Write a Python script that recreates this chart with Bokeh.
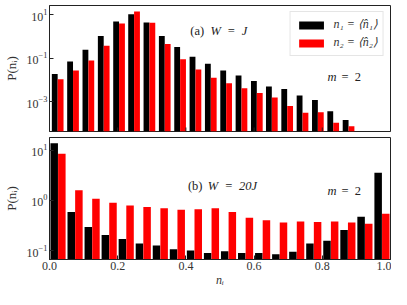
import math
from bokeh.plotting import figure
from bokeh.layouts import column
from bokeh.models import (Range1d, FixedTicker, Label, Legend, LegendItem,
                          ColumnDataSource, NumeralTickFormatter)
from bokeh.transform import dodge
from bokeh.embed import file_html
from bokeh.resources import INLINE

# ---------------- data ----------------
# panel (a): W = J
centers_a = [0.024, 0.069, 0.114, 0.159, 0.204, 0.248, 0.293, 0.338, 0.383, 0.428,
             0.473, 0.518, 0.563, 0.608, 0.652, 0.697, 0.742, 0.787, 0.832, 0.877]
n1_a = [0.0185, 0.0695, 0.243, 1.04, 4.82, 10.3, 4.35, 1.04, 0.321, 0.117,
        0.0547, 0.0272, 0.0161, 0.0089, 0.00497, 0.00387, 0.00195, 0.00119, 0.000368, 0.000144]
n2_a = [0.0106, 0.0272, 0.077, 0.368, 3.92, 13.7, 4.17, 0.44, 0.0883, 0.0302,
        0.0127, 0.0070, 0.00417, 0.00248, 0.00158, 0.000638, 0.000311, 0.000331, 0.000109, 0.0000739]

# panel (b): W = 20J
centers_b = [0.025, 0.075, 0.125, 0.175, 0.225, 0.275, 0.325, 0.375, 0.425, 0.475,
             0.525, 0.575, 0.625, 0.675, 0.725, 0.775, 0.825, 0.875, 0.925, 0.975]
n1_b = [13.8, 0.586, 0.294, 0.204, 0.169, 0.138, 0.126, 0.106, 0.100, 0.0889,
        0.097, 0.0889, 0.0889, 0.084, 0.094, 0.138, 0.157, 0.255, 0.47, 3.54]
n2_b = [8.5, 1.585, 1.08, 0.896, 0.785, 0.739, 0.698, 0.648, 0.668, 0.698,
        0.586, 0.45, 0.40, 0.361, 0.378, 0.372, 0.378, 0.361, 0.341, 0.543]

x_ticks = [0.0, 0.2, 0.4, 0.6, 0.8, 1.0]
y_ticks_a = [1e-3, 1e-1, 1e1]
y_ticks_b = [1e-1, 1e0, 1e1]

legend_labels = ["n\u2081 = \u27e8n\u0302\u2081\u27e9", "n\u2082 = \u27e8n\u0302\u2082\u27e9"]
ylabel = "P(n\u1d62)"
xlabel = "n\u1d62"

FONT = "Liberation Serif"
BLACK = "#000000"
RED = "#ff0000"
EDGE = "#222222"


def style_y(p, yticks):
    p.xgrid.grid_line_color = None
    p.ygrid.grid_line_color = None
    p.outline_line_color = EDGE
    p.outline_line_width = 1
    ax = p.yaxis[0]
    ax.ticker = FixedTicker(ticks=yticks)
    ax.axis_line_color = EDGE
    ax.major_tick_in = 4
    ax.major_tick_out = 0
    ax.minor_tick_line_color = None
    ax.major_tick_line_color = EDGE
    ax.major_label_text_font = FONT
    ax.major_label_text_color = "#333333"
    ax.major_label_text_font_size = "12px"
    ax.major_label_standoff = 2
    ax.axis_label = ylabel
    ax.axis_label_text_font = FONT
    ax.axis_label_text_font_style = "normal"
    ax.axis_label_text_font_size = "13px"
    ax.axis_label_text_color = "#333333"
    ax.axis_label_standoff = 5


def add_label(p, x, y, text, style_="normal", size="12.5px"):
    p.add_layout(Label(x=x, y=y, text=text, text_font=FONT, text_font_style=style_,
                       text_font_size=size, text_baseline="middle", text_align="left",
                       text_color="#222222"))


# ---------------- panel (a) ----------------
src_a = ColumnDataSource(dict(x=centers_a, n1=n1_a, n2=n2_a))
p1 = figure(width=391, height=134, x_range=Range1d(0, 1),
            y_range=Range1d(4.3e-5, 26), y_axis_type="log", x_axis_location=None,
            output_backend="svg", toolbar_location=None,
            min_border_left=48, min_border_right=1, min_border_top=5, min_border_bottom=3)
ra1 = p1.vbar(x=dodge("x", -0.0086, range=p1.x_range), top="n1", bottom=1e-7, width=0.0171,
              source=src_a, fill_color=BLACK, line_color=None)
ra2 = p1.vbar(x=dodge("x", 0.0086, range=p1.x_range), top="n2", bottom=1e-7, width=0.0171,
              source=src_a, fill_color=RED, line_color=None)
style_y(p1, y_ticks_a)
# inward x tick marks along the bottom edge of panel (a) (no labels there)
p1.scatter(x=x_ticks, y=[p1.y_range.start] * len(x_ticks), marker="dash",
           angle=math.pi / 2, size=8, line_color=EDGE, line_width=1)

legend = Legend(items=[LegendItem(label=legend_labels[0], renderers=[ra1]),
                       LegendItem(label=legend_labels[1], renderers=[ra2])],
                location="top_right", glyph_width=31, glyph_height=10,
                label_height=15, label_standoff=7, padding=5, spacing=3, margin=6,
                label_text_font=FONT, label_text_font_style="italic",
                label_text_font_size="12px", label_text_color="#333333",
                border_line_color="#cccccc", border_line_width=1,
                background_fill_color="white", background_fill_alpha=1)
p1.add_layout(legend)

add_label(p1, 0.413, 1.81, "(a)", "normal")
add_label(p1, 0.472, 1.81, "W\u2002=\u2002J", "italic")
add_label(p1, 0.815, 0.0133, "m", "italic")
add_label(p1, 0.856, 0.0133, "=\u20022", "normal")

# ---------------- panel (b) ----------------
src_b = ColumnDataSource(dict(x=centers_b, n1=n1_b, n2=n2_b))
p2 = figure(width=391, height=155, x_range=Range1d(0, 1),
            y_range=Range1d(0.0662, 17.9), y_axis_type="log",
            output_backend="svg", toolbar_location=None,
            min_border_left=48, min_border_right=1, min_border_top=3, min_border_bottom=26)
p2.vbar(x=dodge("x", -0.0112, range=p2.x_range), top="n1", bottom=1e-4, width=0.022,
        source=src_b, fill_color=BLACK, line_color=None)
p2.vbar(x=dodge("x", 0.0112, range=p2.x_range), top="n2", bottom=1e-4, width=0.022,
        source=src_b, fill_color=RED, line_color=None)
style_y(p2, y_ticks_b)
xa = p2.xaxis[0]
xa.ticker = FixedTicker(ticks=x_ticks)
xa.formatter = NumeralTickFormatter(format="0.0")
xa.axis_line_color = EDGE
xa.major_tick_in = 4
xa.major_tick_out = 0
xa.minor_tick_line_color = None
xa.major_tick_line_color = EDGE
xa.major_label_text_font = FONT
xa.major_label_text_color = "#333333"
xa.major_label_text_font_size = "12px"
xa.major_label_standoff = 2
xa.axis_label = xlabel
xa.axis_label_text_font = FONT
xa.axis_label_text_font_style = "italic"
xa.axis_label_text_font_size = "12px"
xa.axis_label_text_color = "#333333"
xa.axis_label_standoff = 0

add_label(p2, 0.406, 1.91, "(b)", "normal")
add_label(p2, 0.464, 1.91, "W\u2002=\u200220J", "italic")
add_label(p2, 0.815, 1.51, "m", "italic")
add_label(p2, 0.856, 1.51, "=\u20022", "normal")

layout = column(p1, p2, spacing=0)
open("out.html", "w").write(file_html(layout, INLINE))
